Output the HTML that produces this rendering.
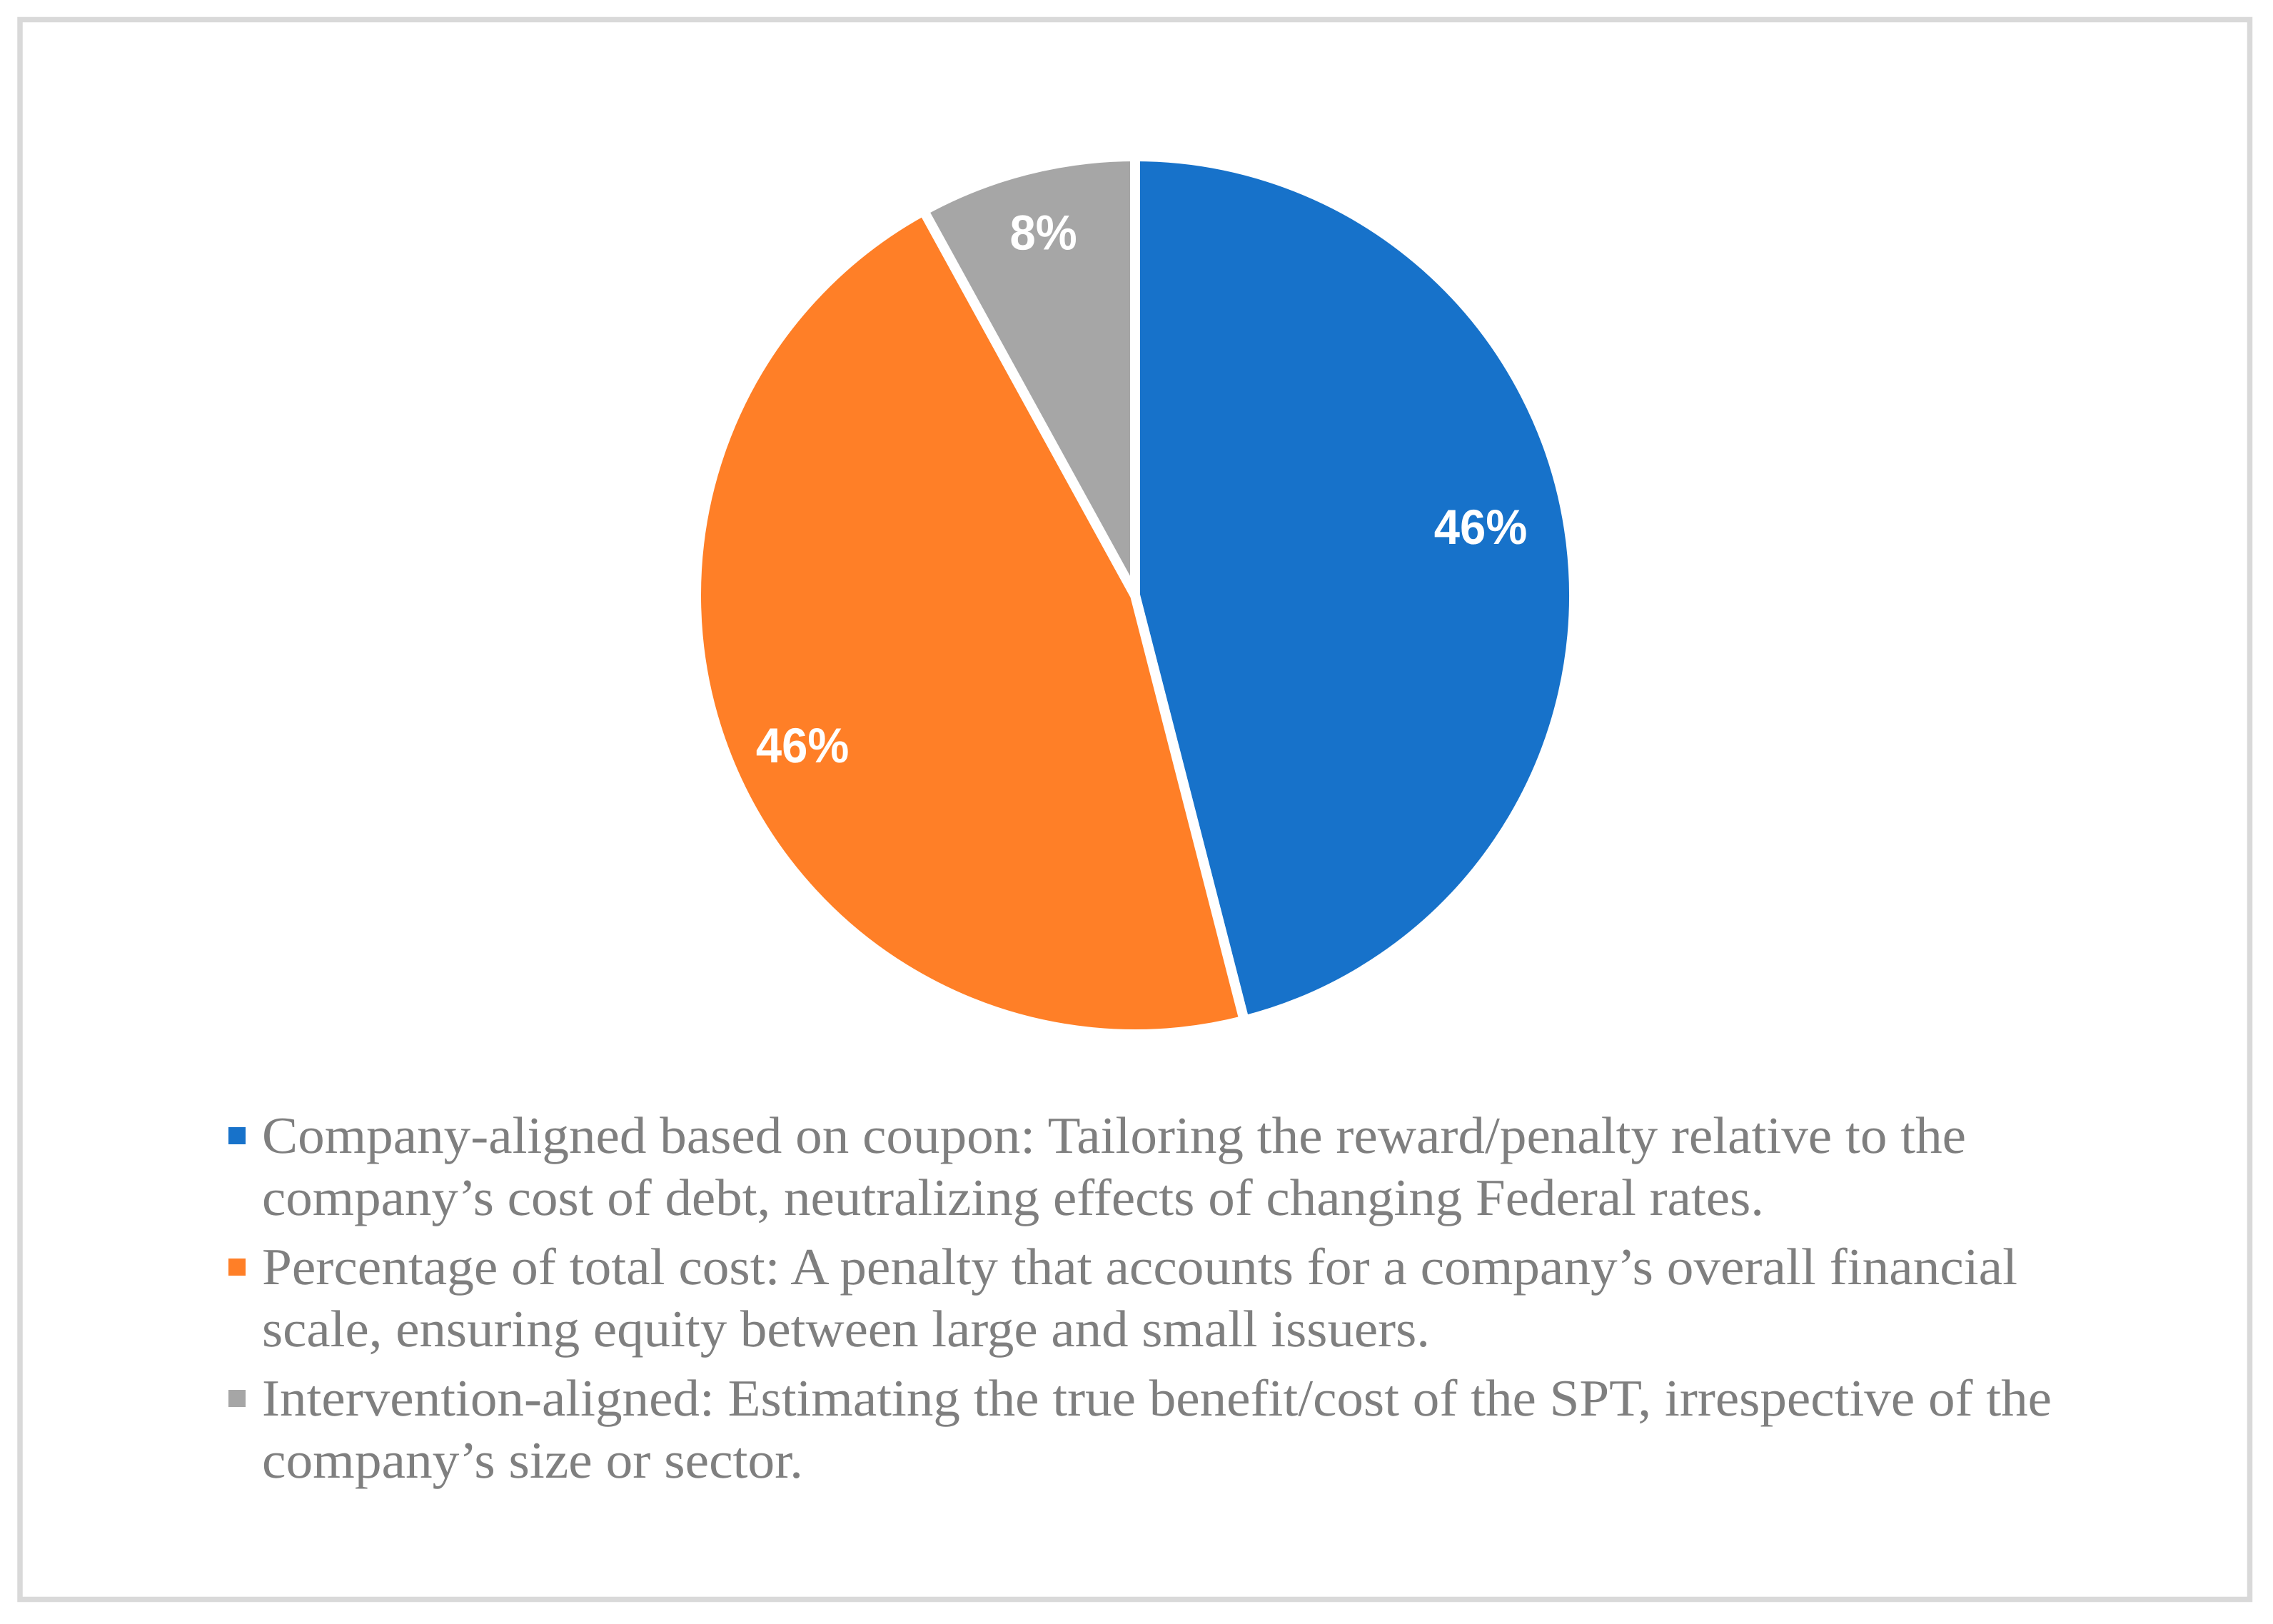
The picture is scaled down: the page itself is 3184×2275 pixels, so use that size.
<!DOCTYPE html>
<html lang="en">
<head>
<meta charset="utf-8">
<title>Penalty design pie chart</title>
<style>
  html, body { margin: 0; padding: 0; background: #ffffff; }
  svg { display: block; }
  .legend-text { font-family: "Liberation Serif", serif; font-size: 73px; fill: #7f7f7f; text-rendering: geometricPrecision; }
  .data-label { font-family: "Liberation Sans", sans-serif; font-weight: 700; font-size: 69px; fill: #ffffff; text-anchor: middle; text-rendering: geometricPrecision; }
  .slice { stroke: #ffffff; stroke-width: 14; stroke-linejoin: miter; stroke-miterlimit: 10; }
  .slice-0 { fill: #1772ca; }
  .slice-1 { fill: #ff7f27; }
  .slice-2 { fill: #a6a6a6; }
</style>
</head>
<body>
<svg id="chart" xmlns="http://www.w3.org/2000/svg" width="3184" height="2275" viewBox="0 0 3184 2275">
  <rect x="28" y="27.5" width="3123.5" height="2213" fill="#ffffff" stroke="#d9d9d9" stroke-width="7.5"></rect>
  <g id="pie"></g>
  <g id="labels"></g>
  <g>
    <g>
      <rect x="320" y="1579" width="24" height="24" fill="#1772ca"></rect>
      <text class="legend-text" x="367" y="1615" textLength="2387" lengthAdjust="spacingAndGlyphs">Company-aligned based on coupon: Tailoring the reward/penalty relative to the</text>
      <text class="legend-text" x="367" y="1702" textLength="2104" lengthAdjust="spacingAndGlyphs">company’s cost of debt, neutralizing effects of changing Federal rates.</text>
    </g>
    <g>
      <rect x="320" y="1763" width="24" height="24" fill="#ff7f27"></rect>
      <text class="legend-text" x="367" y="1799" textLength="2459" lengthAdjust="spacingAndGlyphs">Percentage of total cost: A penalty that accounts for a company’s overall financial</text>
      <text class="legend-text" x="367" y="1886" textLength="1636" lengthAdjust="spacingAndGlyphs">scale, ensuring equity between large and small issuers.</text>
    </g>
    <g>
      <rect x="320" y="1947" width="24" height="24" fill="#a6a6a6"></rect>
      <text class="legend-text" x="367" y="1983" textLength="2507" lengthAdjust="spacingAndGlyphs">Intervention-aligned: Estimating the true benefit/cost of the SPT, irrespective of the</text>
      <text class="legend-text" x="367" y="2070" textLength="758" lengthAdjust="spacingAndGlyphs">company’s size or sector.</text>
    </g>
  </g>
</svg>
<script>
const categories = ["Company-aligned based on coupon", "Percentage of total cost", "Intervention-aligned"];
const sliceValues = [46, 46, 8];

const SVG_NS = "http://www.w3.org/2000/svg";
const CX = 1590;
const CY = 834;
const RADIUS = 615;
const LABEL_RADIUS = 500;

function angleScale(value, total) {
  return value / total * 2 * Math.PI;
}
function polar(angle, r) {
  return [CX + r * Math.sin(angle), CY - r * Math.cos(angle)];
}
function labelNudge(i) {
  if (i === 0) return [-12, -34.5];
  if (i === 1) return [-1, 25];
  return [-4, -25];
}

const pieGroup = document.getElementById("pie");
const labelGroup = document.getElementById("labels");
const total = sliceValues.reduce(function (a, b) { return a + b; }, 0);
let cumulative = 0;

sliceValues.forEach(function (value, i) {
  const start = angleScale(cumulative, total);
  const end = angleScale(cumulative + value, total);
  const p0 = polar(start, RADIUS);
  const p1 = polar(end, RADIUS);
  const large = end - start > Math.PI ? 1 : 0;

  const path = document.createElementNS(SVG_NS, "path");
  path.setAttribute("d", "M" + CX + " " + CY + " L" + p0[0] + " " + p0[1] +
    " A" + RADIUS + " " + RADIUS + " 0 " + large + " 1 " + p1[0] + " " + p1[1] + " Z");
  path.setAttribute("class", "slice slice-" + i);
  
  
  const tip = document.createElementNS(SVG_NS, "title");
  tip.textContent = categories[i];
  path.appendChild(tip);
  pieGroup.appendChild(path);

  const mid = (start + end) / 2;
  const anchor = polar(mid, LABEL_RADIUS);
  const nudge = labelNudge(i);
  const text = document.createElementNS(SVG_NS, "text");
  text.setAttribute("class", "data-label");
  text.setAttribute("x", anchor[0] + nudge[0]);
  text.setAttribute("y", anchor[1] + nudge[1] + 25);
  
  
  text.textContent = Math.round(value / total * 100) + "%";
  labelGroup.appendChild(text);
  text.setAttribute("textLength", text.getComputedTextLength() * 0.945);
  text.setAttribute("lengthAdjust", "spacingAndGlyphs");

  cumulative += value;
});
</script>
</body>
</html>
